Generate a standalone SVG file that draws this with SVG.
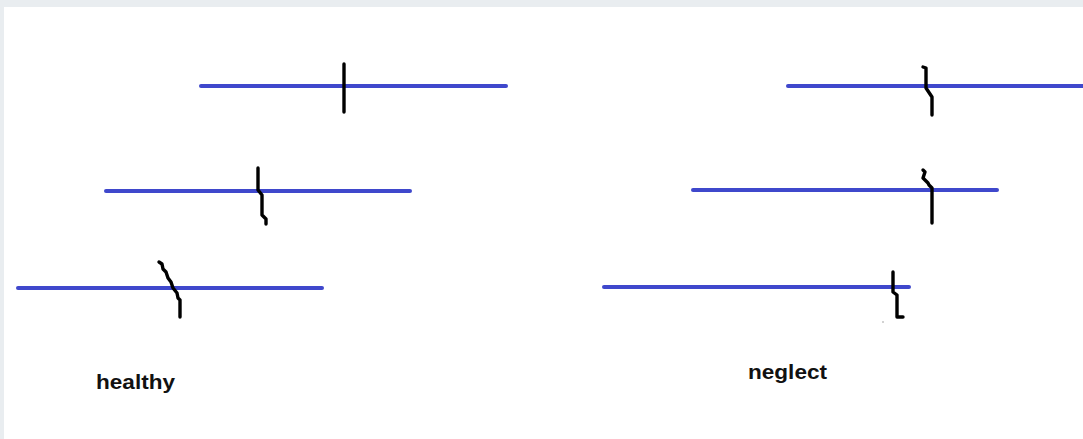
<svg xmlns="http://www.w3.org/2000/svg" width="1083" height="439" viewBox="0 0 1083 439">
<style>
.bar{stroke:#3f48cc;stroke-width:4;fill:none;stroke-linecap:round}
.tick{stroke:#000;stroke-width:3.4;fill:none;stroke-linejoin:round;stroke-linecap:round}
.lbl{font-family:"Liberation Sans",Arial,sans-serif;font-weight:bold;font-size:20px;fill:#111}
</style>
<rect x="0" y="0" width="1083" height="439" fill="#e9edf0"/>
<rect x="4" y="7" width="1079" height="432" fill="#fff"/>
<g id="connectors">
<line class="bar" x1="201" y1="86" x2="506" y2="86"/>
<line class="bar" x1="106" y1="191" x2="410" y2="191"/>
<line class="bar" x1="18" y1="288" x2="322" y2="288"/>
<line class="bar" x1="788" y1="86" x2="1083" y2="86"/>
<line class="bar" x1="693" y1="190" x2="997" y2="190"/>
<line class="bar" x1="604" y1="287" x2="909" y2="287"/>
</g>
<g id="healthy-1"><polyline class="tick" points="344,64 344,112"/></g>
<g id="healthy-2"><polyline class="tick" points="258,168 258,190 262,195 262,215 266,219 266,224"/></g>
<g id="healthy-3"><polyline class="tick" points="159,262 162,264 163,269 166,272 168,278 171,282 173,288 177,293 178,298 180,300 180,317"/></g>
<g id="neglect-1"><polyline class="tick" points="923,67 926,68 926,88 932,97 932,115"/></g>
<g id="neglect-2"><polyline class="tick" points="923,170 925,172 923,178 928,183 929,185 932,188 932,223"/></g>
<g id="neglect-3"><polyline class="tick" points="893,272 893,292 897,295 897,317 903,317"/><circle cx="883" cy="322" r="0.8" fill="#999"/></g>
<g id="label-healthy"><text class="lbl" x="96" y="389" textLength="79" lengthAdjust="spacingAndGlyphs">healthy</text></g>
<g id="label-neglect"><text class="lbl" x="748" y="379" textLength="79" lengthAdjust="spacingAndGlyphs">neglect</text></g>
</svg>
